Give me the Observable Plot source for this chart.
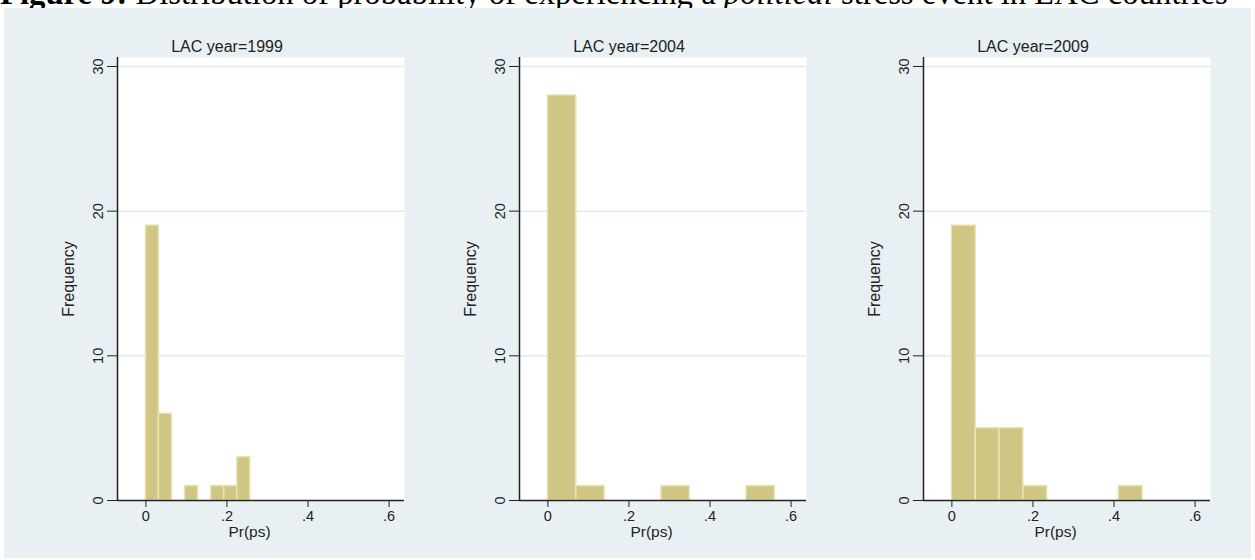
<!DOCTYPE html>
<html><head><meta charset="utf-8">
<script src="https://cdn.jsdelivr.net/npm/d3@7"></script>
<script src="https://cdn.jsdelivr.net/npm/@observablehq/plot@0.6"></script>
<style>
html,body{margin:0;padding:0;background:#fff;width:1255px;height:560px;overflow:hidden;position:relative;font-family:"Liberation Sans",Arial,sans-serif;}
#header{position:absolute;left:0;top:-21.5px;white-space:nowrap;font-family:"Liberation Serif","Times New Roman",serif;font-size:32.7px;line-height:28px;color:#000;}
#bg{position:absolute;left:4px;top:8px;width:1247px;height:550px;background:#e8f0f3;}
.panel{position:absolute;top:30px;}
</style></head><body>
<div id="header"><b>Figure 9:</b> Distribution of probability of experiencing a <i>political</i> stress event in LAC countries</div>
<div id="bg"></div>
<div id="p0" class="panel" style="left:7px"></div>
<div id="p1" class="panel" style="left:409px"></div>
<div id="p2" class="panel" style="left:813px"></div>
<script>
// ---- data ----
const panelTitles = ["LAC year=1999", "LAC year=2004", "LAC year=2009"];
const edges1999 = [0, 0.0322, 0.0644, 0.0966, 0.1288, 0.161, 0.1932, 0.2254, 0.2576];
const counts1999 = [19, 6, 0, 1, 0, 1, 1, 3];
const edges2004 = [0, 0.07, 0.14, 0.21, 0.28, 0.35, 0.42, 0.49, 0.56];
const counts2004 = [28, 1, 0, 0, 1, 0, 0, 1];
const edges2009 = [0, 0.0588, 0.1176, 0.1764, 0.2352, 0.294, 0.3528, 0.4116, 0.4704];
const counts2009 = [19, 5, 5, 1, 0, 0, 0, 1];
const xTicks = [0, 0.2, 0.4, 0.6];
const xTickLabels = ["0", ".2", ".4", ".6"];
const yTicks = [0, 10, 20, 30];
const gridTicks = [10, 20, 30];
const xLabel = "Pr(ps)";
const yLabel = "Frequency";
const xDomain = [-0.07, 0.638];
const yDomain = [0, 30.62];

const panels = [
  {edges: edges1999, counts: counts1999},
  {edges: edges2004, counts: counts2004},
  {edges: edges2009, counts: counts2009}
];

const FONT = "'Liberation Sans', Arial, sans-serif";
const AXIS = "#222";

panels.forEach((p, i) => {
  const bins = p.counts.map((c, k) => ({x1: p.edges[k], x2: p.edges[k + 1], count: c})).filter(d => d.count > 0);
  const chart = Plot.plot({
    width: 400, height: 515,
    marginLeft: 110, marginRight: 3, marginTop: 27, marginBottom: 45,
    style: {background: "transparent", fontFamily: FONT, fontSize: "14px", color: AXIS, overflow: "visible"},
    x: {domain: xDomain},
    y: {domain: yDomain},
    marks: [
      Plot.frame({fill: "white", stroke: null}),
      Plot.ruleY(gridTicks, {stroke: "#e1eaee", strokeWidth: 1.5}),
      Plot.rectY(bins, {x1: "x1", x2: "x2", y: "count", fill: "#cec682", stroke: "#e9e4b6", strokeWidth: 1.5}),
      Plot.ruleX([xDomain[0]], {stroke: AXIS, strokeWidth: 1.5}),
      Plot.ruleY([0], {stroke: AXIS, strokeWidth: 1.5}),
      Plot.axisX({ticks: xTicks, tickFormat: (d) => xTickLabels[xTicks.indexOf(d)], tickSize: 7, tickPadding: 3, label: null, color: AXIS, fontSize: 14.5}),
      Plot.axisY({ticks: yTicks, tickSize: 10, tickRotate: -90, tickPadding: 5, label: null, color: AXIS, fontSize: 14.5}),
      Plot.text([xLabel], {frameAnchor: "bottom", textAnchor: "middle", lineAnchor: "middle", dx: -11.5, dy: 32, fontSize: 15.5, fill: AXIS}),
      Plot.text([yLabel], {frameAnchor: "left", textAnchor: "middle", lineAnchor: "middle", dx: -49, rotate: -90, fontSize: 16, fill: AXIS}),
      Plot.text([panelTitles[i]], {frameAnchor: "top", textAnchor: "middle", lineAnchor: "middle", dx: -34, dy: -11, fontSize: 16, fill: AXIS})
    ]
  });
  document.getElementById("p" + i).appendChild(chart);
});
</script>
</body></html>
